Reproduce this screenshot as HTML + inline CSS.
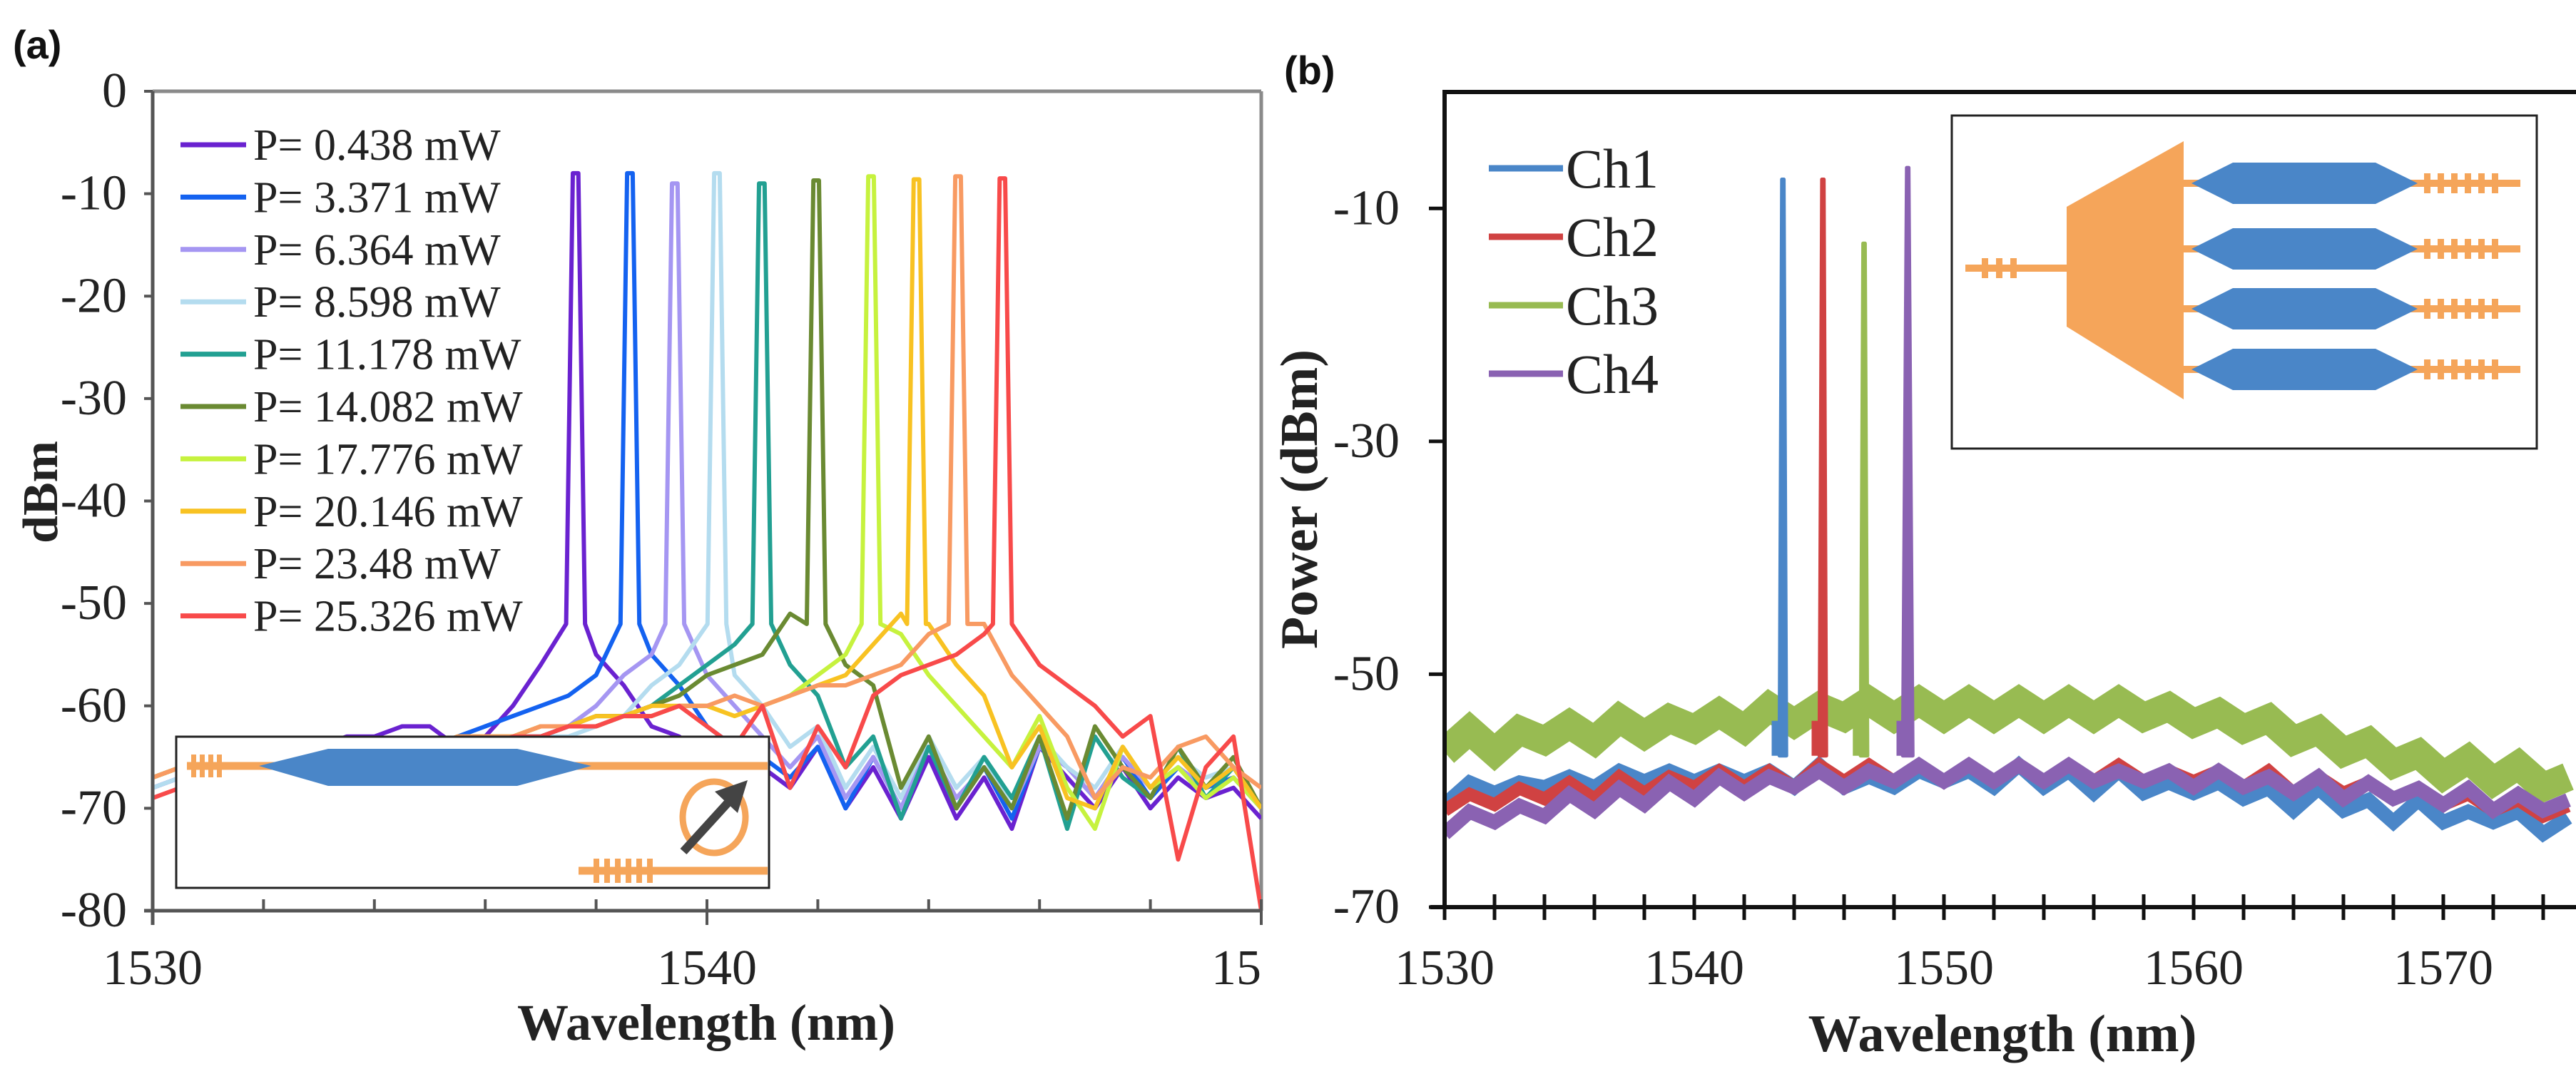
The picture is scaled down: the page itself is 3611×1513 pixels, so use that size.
<!DOCTYPE html>
<html><head><meta charset="utf-8"><style>
html,body{margin:0;padding:0;background:#fff;}
svg{display:block;}
text{font-family:"Liberation Serif",serif;fill:#222;}
.lab{font-family:"Liberation Sans",sans-serif;font-weight:bold;fill:#111;}
</style></head><body>
<svg id="fig" width="3611" height="1513" viewBox="0 0 3611 1513" xmlns="http://www.w3.org/2000/svg">
<defs>
<clipPath id="clipA"><rect x="0" y="0" width="1772" height="1513"/></clipPath>
<clipPath id="plotA"><rect x="214" y="128" width="1554" height="1149"/></clipPath>
<clipPath id="plotB"><rect x="2025" y="129" width="1586" height="1143"/></clipPath>
</defs>
<text class="lab" x="18" y="82" font-size="56">(a)</text>
<text class="lab" x="1800" y="118" font-size="56">(b)</text>
<g id="panelA" clip-path="url(#clipA)"></g>
<g id="panelB"></g>
</svg>
<script>
const NS="http://www.w3.org/2000/svg";
// ---------- Panel A data ----------
const aSeriesNames=["P= 0.438 mW","P= 3.371 mW","P= 6.364 mW","P= 8.598 mW","P= 11.178 mW","P= 14.082 mW","P= 17.776 mW","P= 20.146 mW","P= 23.48 mW","P= 25.326 mW"];
const aColors=["#6a22d0","#1462f0","#a596f2","#b4dcef","#22a092","#6a8a32","#c6f23e","#f8c222","#f89a62","#f84a4a"];
const aPeakWl=[1537.63,1538.61,1539.42,1540.18,1540.99,1541.97,1542.96,1543.78,1544.53,1545.33];
const aPeakDb=[-8,-8,-9,-8,-9,-8.7,-8.3,-8.6,-8.3,-8.5];
const aYTicks=[0,-10,-20,-30,-40,-50,-60,-70,-80];
const aXTicks=[1530,1540,1550];
const aS1=[-68,-67,-68,-67,-68,-66,-64,-63,-63,-62,-62,-64,-63,-60,-56,-53,-55,-58,-62,-63,-65,-64,-66,-68,-64,-70,-66,-71,-65,-71,-67,-72,-64,-67,-70,-66,-70,-67,-69,-68,-71];
const aS2=[-67,-66,-67,-66,-68,-67,-66,-65,-66,-65,-64,-63,-62,-61,-60,-59,-57,-53,-55,-58,-62,-64,-65,-67,-64,-70,-65,-70,-64,-70,-66,-71,-64,-66,-69,-65,-69,-66,-68,-67,-70];
const aS3=[-68,-67,-68,-67,-67,-66,-67,-66,-66,-65,-65,-64,-64,-63,-63,-62,-60,-57,-55,-54,-57,-60,-63,-66,-63,-69,-65,-70,-64,-69,-66,-70,-64,-66,-69,-65,-68,-66,-68,-66,-70];
const aS4=[-68,-67,-67,-66,-67,-66,-66,-66,-65,-65,-64,-64,-64,-63,-63,-63,-62,-61,-58,-56,-55,-57,-60,-64,-62,-68,-64,-69,-63,-68,-65,-70,-63,-66,-68,-64,-68,-65,-67,-66,-70];
const aS5=[-67,-66,-67,-66,-66,-66,-65,-65,-65,-64,-64,-64,-63,-63,-63,-62,-62,-61,-60,-58,-56,-54,-52,-56,-59,-66,-63,-71,-64,-70,-65,-69,-63,-72,-63,-67,-69,-64,-69,-66,-70];
const aS6=[-67,-66,-67,-66,-66,-65,-65,-65,-64,-64,-64,-63,-63,-63,-62,-62,-61,-61,-60,-59,-57,-56,-55,-51,-50,-56,-58,-68,-63,-70,-66,-70,-63,-71,-62,-66,-69,-64,-68,-65,-70];
const aS7=[-67,-66,-67,-66,-66,-65,-65,-65,-64,-64,-64,-63,-63,-63,-62,-62,-62,-61,-61,-60,-60,-61,-60,-59,-57,-55,-52,-53,-57,-60,-63,-66,-61,-68,-72,-64,-68,-66,-69,-67,-70];
const aS8=[-67,-66,-67,-66,-66,-65,-65,-65,-64,-64,-64,-63,-63,-63,-62,-62,-61,-61,-60,-60,-60,-61,-60,-59,-58,-57,-54,-51,-52,-56,-59,-66,-62,-69,-70,-64,-68,-65,-68,-66,-70];
const aS9=[-67,-66,-67,-66,-66,-65,-65,-65,-64,-64,-64,-63,-63,-63,-62,-62,-62,-61,-61,-60,-60,-59,-60,-59,-58,-58,-57,-56,-53,-50,-52,-57,-60,-63,-69,-66,-67,-64,-63,-66,-68];
const aS10=[-69,-68,-67,-67,-66,-66,-66,-65,-65,-65,-64,-64,-64,-63,-63,-62,-62,-61,-61,-60,-62,-64,-60,-68,-62,-66,-59,-57,-56,-55,-53,-55,-56,-58,-60,-63,-61,-75,-66,-63,-80];
const aSeries=[aS1,aS2,aS3,aS4,aS5,aS6,aS7,aS8,aS9,aS10];
// ---------- Panel B data ----------
const bNames=["Ch1","Ch2","Ch3","Ch4"];
const bColors=["#4a86c8","#d04242","#98bb52","#8a62b2"];
const bPeakWl=[1543.55,1545.15,1546.8,1548.55];
const bPeakDb=[-7.5,-7.5,-13,-6.5];
const bYTicks=[-10,-30,-50,-70];
const bXTicks=[1530,1540,1550,1560,1570];
const bCh1=[-60.5,-60,-59.5,-60,-59,-59.5,-59,-59,-58.5,-59,-58.5,-59,-58.5,-59,-59,-58.5,-59,-59.5,-59,-59,-58.5,-59,-59,-58.5,-59,-59,-59.5,-59,-59.5,-60,-59.5,-60,-60,-60.5,-61,-60.5,-61,-61.5,-62,-61.5,-62,-62.5,-62,-62.5,-63,-63];
const bCh2=[-61,-61,-60.5,-60.5,-60,-60,-60,-59.5,-59.5,-59.5,-59,-59,-59,-59,-59,-58.5,-58.5,-58.5,-58.5,-58.5,-58.5,-58.5,-58.5,-58.5,-58.5,-58.5,-58.5,-58.5,-58.5,-59,-58.5,-59,-59,-59,-59.5,-59.5,-59.5,-60,-60,-60.5,-60.5,-61,-61,-61.5,-61.5,-62];
const bCh3=[-56,-55.5,-56,-55.5,-55,-55,-55,-54.5,-54.5,-54.5,-54,-54,-54,-53.5,-53.5,-53.5,-53,-53,-53,-53,-53,-53,-53,-53,-53,-53,-53,-53,-53,-53.5,-53.5,-54,-54,-54.5,-55,-55.5,-56,-56.5,-57,-57.5,-58,-58,-58.5,-58.5,-59,-59.5];
const bCh4=[-63,-62.5,-62,-62,-61.5,-61,-61,-60.5,-60.5,-60,-60,-59.5,-59.5,-59.5,-59,-59,-59,-59,-58.5,-58.5,-58.5,-58.5,-58.5,-58.5,-58.5,-58.5,-58.5,-59,-58.5,-59,-59,-59,-59,-59.5,-59.5,-59.5,-60,-60,-60,-60.5,-60.5,-60.5,-61,-61,-61,-61.5];
const bSeries=[bCh1,bCh2,bCh3,bCh4];
const bWidths=[20,18,40,20];

function el(tag,attrs,parent){const e=document.createElementNS(NS,tag);for(const k in attrs)e.setAttribute(k,attrs[k]);parent.appendChild(e);return e;}
function txt(parent,x,y,s,size,anchor,extra){const t=el('text',Object.assign({x:x,y:y,'font-size':size,'text-anchor':anchor},extra||{}),parent);t.textContent=s;return t;}

// ---------- Panel A ----------
const A=document.getElementById('panelA');
const ax={x0:214,x1:1768,y0:128,y1:1277,wMin:1530,wMax:1550,dMin:-80,dMax:0};
const axX=w=>ax.x0+(w-ax.wMin)/(ax.wMax-ax.wMin)*(ax.x1-ax.x0);
const axY=d=>ax.y1-(d-ax.dMin)/(ax.dMax-ax.dMin)*(ax.y1-ax.y0);
let f=el('line',{x1:ax.x0,y1:ax.y0,x2:ax.x1,y2:ax.y0,stroke:'#8a8a8a','stroke-width':5},A);

f=el('line',{x1:ax.x1,y1:ax.y0,x2:ax.x1,y2:ax.y1,stroke:'#8a8a8a','stroke-width':5},A);

const gA=el('g',{'clip-path':'url(#plotA)'},A);

aSeries.forEach((vals,si)=>{
  const c=aPeakWl[si];const pts=[];
  vals.forEach((v,i)=>{const w=ax.wMin+i*0.5;
    if(w>c-0.22&&w<c+0.22)return;
    if(pts.length&&pts[pts.length-1][0]<c&&w>c){pts.push([c-0.17,-52],[c-0.05,aPeakDb[si]],[c+0.05,aPeakDb[si]],[c+0.17,-52]);}
    pts.push([w,v]);});
  const p=el('polyline',{points:pts.map(q=>axX(q[0]).toFixed(1)+','+axY(q[1]).toFixed(1)).join(' '),fill:'none',stroke:aColors[si],'stroke-width':6,'stroke-linejoin':'round'},gA);
  
  
});
f=el('line',{x1:ax.x0,y1:ax.y0,x2:ax.x0,y2:ax.y1+20,stroke:'#555','stroke-width':5},A);

f=el('line',{x1:ax.x0-12,y1:ax.y1,x2:ax.x1,y2:ax.y1,stroke:'#555','stroke-width':5},A);

for(let w=ax.wMin;w<=ax.wMax;w+=2){const t=el('line',{x1:axX(w),y1:ax.y1-16,x2:axX(w),y2:ax.y1+(w%10===0?20:0),stroke:'#555','stroke-width':4},A);
  }
aYTicks.forEach(d=>{const t=el('line',{x1:ax.x0-12,y1:axY(d),x2:ax.x0,y2:axY(d),stroke:'#555','stroke-width':4},A);
  
  const l=txt(A,178,axY(d)+22,String(d),70,'end');
  });
aXTicks.forEach(w=>{const l=txt(A,axX(w),1380,String(w),70,'middle');
  });
let tt=txt(A,990,1458,'Wavelength (nm)',72,'middle',{'font-weight':'bold'});

tt=txt(A,0,0,'dBm',70,'middle',{'font-weight':'bold',transform:'translate(80,690) rotate(-90)'});

const legA=el('g',{},A);

aSeriesNames.forEach((n,i)=>{const y=203+i*73.4;
  const g=el('g',{},legA);
  
  el('line',{x1:253,y1:y,x2:345,y2:y,stroke:aColors[i],'stroke-width':7},g);
  txt(g,355,y+21,n,62,'start');});
const inA=el('g',{},A);

el('rect',{x:247,y:1033,width:831,height:212,fill:'#fff',stroke:'#222','stroke-width':3},inA);
el('line',{x1:262,y1:1074,x2:1076,y2:1074,stroke:'#f5a55a','stroke-width':11},inA);
for(let k=0;k<4;k++)el('rect',{x:268+k*12,y:1058,width:7,height:32,fill:'#f5a55a'},inA);
el('polygon',{points:'363,1074 460,1050 725,1050 829,1074 725,1102 460,1102',fill:'#4a86c8'},inA);
el('ellipse',{cx:1001,cy:1146,rx:44,ry:50,fill:'none',stroke:'#f5a55a','stroke-width':9},inA);
el('line',{x1:958,y1:1194,x2:1030,y2:1115,stroke:'#444','stroke-width':12},inA);
el('polygon',{points:'1048,1094 1002,1110 1034,1140',fill:'#444'},inA);
el('line',{x1:811,y1:1221,x2:1076,y2:1221,stroke:'#f5a55a','stroke-width':11},inA);
for(let k=0;k<6;k++)el('rect',{x:832+k*15,y:1204,width:8,height:34,fill:'#f5a55a'},inA);

// ---------- Panel B ----------
const B=document.getElementById('panelB');
const bx={x0:2025,x1:3600,y0:129,y1:1272,wMin:1530,wMax:1575,dMin:-70,dMax:0};
const bX=w=>bx.x0+(w-bx.wMin)/10*350;
const bY=d=>bx.y1-(d-bx.dMin)/(bx.dMax-bx.dMin)*(bx.y1-bx.y0);
const gB=el('g',{'clip-path':'url(#plotB)'},B);

[2,0,1,3].forEach(si=>{
  const vals=bSeries[si];
  const pts=vals.map((v,i)=>[bx.wMin+i,v+(i%2?0.7:-0.7)]);
  const p=el('polyline',{points:pts.map(q=>bX(q[0]).toFixed(1)+','+bY(q[1]).toFixed(1)).join(' '),fill:'none',stroke:bColors[si],'stroke-width':bWidths[si],'stroke-linejoin':'miter'},gB);
  
  
});
[0,1,2,3].forEach(si=>{
  const c=bPeakWl[si];const hw=si===3?0.2:0.14;
  const pk=el('polygon',{points:[[c-hw,-57],[c-0.04,bPeakDb[si]],[c+0.04,bPeakDb[si]],[c+hw,-57]].map(q=>bX(q[0]).toFixed(1)+','+bY(q[1]).toFixed(1)).join(' '),fill:bColors[si],stroke:bColors[si],'stroke-width':5,'stroke-linejoin':'round'},gB);
  
  
  const sb=el('line',{x1:bX(c-0.25),y1:bY(-54),x2:bX(c-0.25),y2:bY(-57),stroke:bColors[si],'stroke-width':14},gB);
  
  
});
f=el('path',{d:`M${bx.x0},${bx.y1} L${bx.x0},${bx.y0} L3611,${bx.y0} M${bx.x0-20},${bx.y1} L3611,${bx.y1}`,fill:'none',stroke:'#111','stroke-width':6},B);

for(let w=bx.wMin;w<=bx.wMax;w+=2){const t=el('line',{x1:bX(w),y1:bx.y1-18,x2:bX(w),y2:bx.y1+18,stroke:'#111','stroke-width':5},B);
  }
bYTicks.forEach(d=>{const t=el('line',{x1:bx.x0-22,y1:bY(d),x2:bx.x0,y2:bY(d),stroke:'#111','stroke-width':5},B);
  
  const l=txt(B,1962,bY(d)+22,String(d),70,'end');
  });
bXTicks.forEach(w=>{const l=txt(B,bX(w),1380,String(w),70,'middle');
  });
tt=txt(B,2807,1474,'Wavelength (nm)',74,'middle',{'font-weight':'bold'});

tt=txt(B,0,0,'Power (dBm)',74,'middle',{'font-weight':'bold',transform:'translate(1846,700) rotate(-90)'});

const legB=el('g',{},B);

bNames.forEach((n,i)=>{const y=236+i*96;
  const g=el('g',{},legB);
  
  el('line',{x1:2087,y1:y,x2:2191,y2:y,stroke:bColors[i],'stroke-width':9},g);
  txt(g,2195,y+27,n,78,'start');});
const inB=el('g',{},B);

el('rect',{x:2736,y:162,width:820,height:467,fill:'#fff',stroke:'#222','stroke-width':3},inB);
el('line',{x1:2755,y1:376,x2:2900,y2:376,stroke:'#f5a55a','stroke-width':10},inB);
for(let k=0;k<3;k++)el('rect',{x:2778+k*20,y:362,width:9,height:28,fill:'#f5a55a'},inB);
el('polygon',{points:'2897,290 3061,198 3061,560 2897,458',fill:'#f5a55a'},inB);
[257,349,433,518].forEach(cy=>{
  el('line',{x1:3058,y1:cy,x2:3533,y2:cy,stroke:'#f5a55a','stroke-width':10},inB);
  el('polygon',{points:`3072,${cy} 3130,${cy-29} 3330,${cy-29} 3389,${cy} 3330,${cy+29} 3130,${cy+29}`,fill:'#4a86c8'},inB);
  for(let k=0;k<6;k++)el('rect',{x:3398+k*19,y:cy-14,width:9,height:28,fill:'#f5a55a'},inB);
});
</script>
</body></html>
